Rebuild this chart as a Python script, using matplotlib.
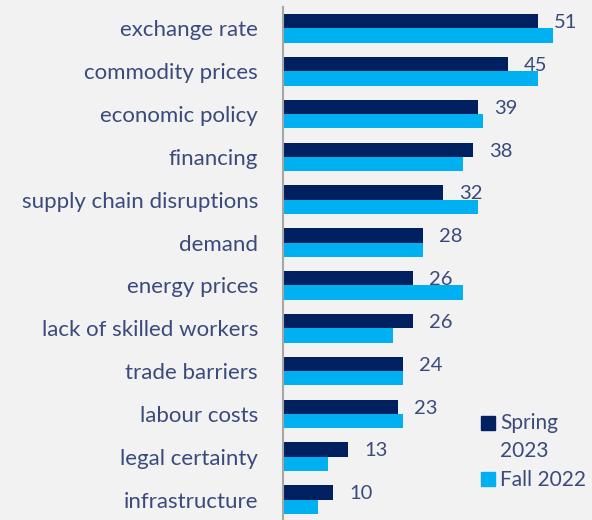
import matplotlib.pyplot as plt
import numpy as np
from matplotlib.patches import Rectangle

CATEGORIES = [
    "exchange rate", "commodity prices", "economic policy", "financing",
    "supply chain disruptions", "demand", "energy prices",
    "lack of skilled workers", "trade barriers", "labour costs",
    "legal certainty", "infrastructure",
]
SPRING_2023 = [51, 45, 39, 38, 32, 28, 26, 26, 24, 23, 13, 10]
FALL_2022 = [54, 51, 40, 36, 39, 28, 36, 22, 24, 24, 9, 7]

NAVY = "#002060"
CYAN = "#00b0f0"
TEXT = "#3a4a7c"
BG = "#f2f2f2"

plt.rcParams["font.family"] = ["Lato", "DejaVu Sans"]

W, H = 592, 520
fig = plt.figure(figsize=(W / 100, H / 100), dpi=100, facecolor=BG)
ax = fig.add_axes([283 / W, -1 / H, (W - 283) / W, 514 / H])
ax.set_facecolor(BG)

y = np.arange(len(CATEGORIES))
bh = 0.336
ax.barh(y - bh / 2, SPRING_2023, height=bh, color=NAVY)
ax.barh(y + bh / 2, FALL_2022, height=bh, color=CYAN)

for yi, v in zip(y, SPRING_2023):
    ax.text(v + 3.2, yi - bh / 2 + 0.03, str(v), color=TEXT, fontsize=14.5,
            va="center", ha="left")

ax.set_ylim(len(CATEGORIES) - 0.5, -0.5)
ax.set_xlim(0, (W - 283) / 5)
ax.set_yticks(y)
ax.set_yticklabels(CATEGORIES, color=TEXT, fontsize=16)
ax.tick_params(axis="y", length=0, pad=18)
ax.set_xticks([])
for side in ["top", "right", "bottom"]:
    ax.spines[side].set_visible(False)
ax.spines["left"].set_color("#a6a6a6")
ax.spines["left"].set_linewidth(1.5)

# legend drawn by hand so the square sits on the first line of "Spring 2023"
def fig_box(x0, y0, size, color):
    fig.add_artist(Rectangle((x0 / W, 1 - (y0 + size) / H), size / W, size / H,
                             transform=fig.transFigure, color=color))

fig_box(481, 416, 14, NAVY)
fig_box(481, 472, 14, CYAN)
fig.text(500 / W, 1 - 423 / H, "Spring", color=TEXT, fontsize=15, va="center")
fig.text(500 / W, 1 - 451 / H, "2023", color=TEXT, fontsize=15, va="center")
fig.text(500 / W, 1 - 480 / H, "Fall 2022", color=TEXT, fontsize=15, va="center")

fig.savefig("out.png", dpi=100, facecolor=BG)
